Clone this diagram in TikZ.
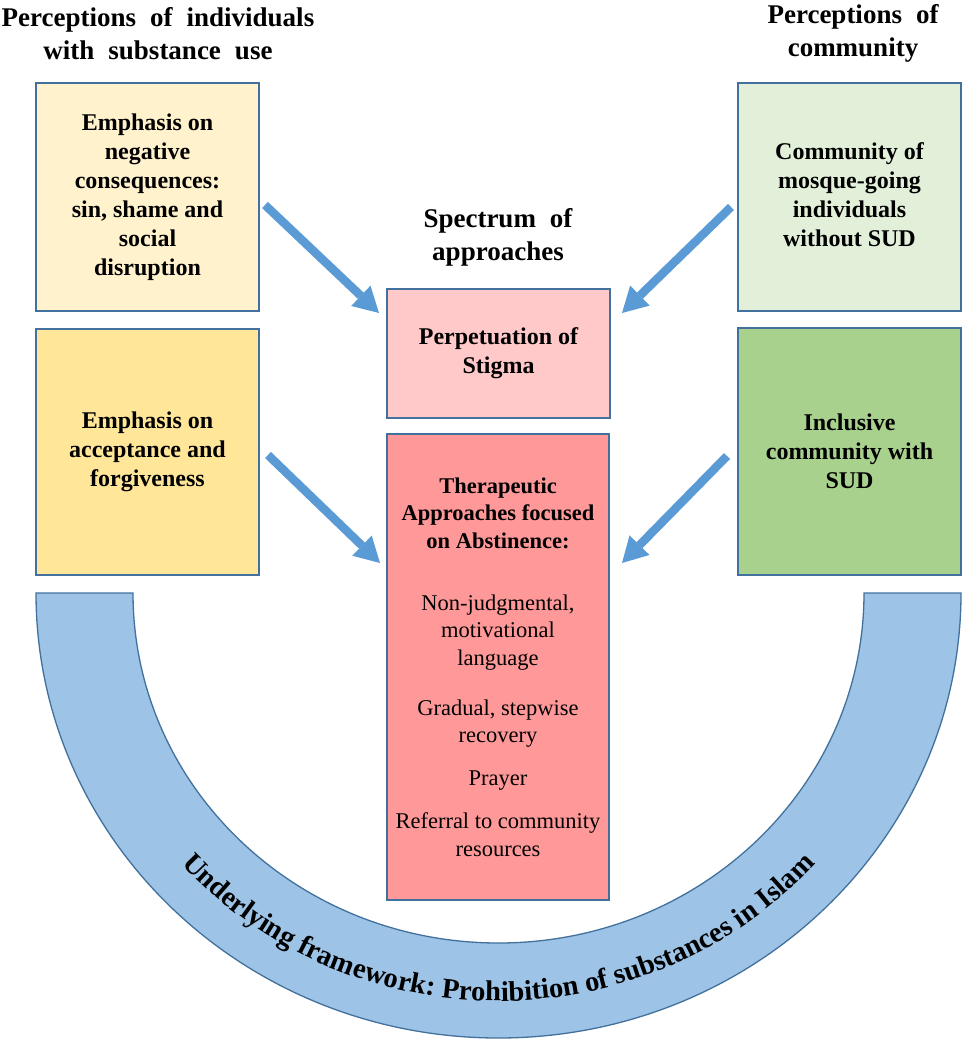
\documentclass[tikz,border=0pt]{standalone}
\usepackage{fontspec}
\setmainfont{Liberation Serif}
\usetikzlibrary{arrows.meta,decorations.text}
\definecolor{bordc}{HTML}{41719C}
\definecolor{arrowc}{HTML}{5B9BD5}
\definecolor{bandc}{HTML}{9DC3E6}
\definecolor{yel1}{HTML}{FFF2CC}
\definecolor{yel2}{HTML}{FFE699}
\definecolor{grn1}{HTML}{E2F0D9}
\definecolor{grn2}{HTML}{A9D18E}
\definecolor{pink1}{HTML}{FFC9C9}
\definecolor{red1}{HTML}{FF9999}
\newcommand\widespaces{\spaceskip=14pt\relax}
\begin{document}
\begin{tikzpicture}[x=1pt,y=1pt,
  box/.style={draw=bordc, line width=2pt, minimum width=223pt, align=center, inner sep=0pt,
    font=\bfseries\fontsize{24}{29}\selectfont},
  title/.style={align=center, font=\bfseries\fontsize{27}{33}\selectfont\widespaces},
  bigarrow/.style={draw=arrowc, line width=8.5pt, -{Triangle[width=28pt,length=25pt,line width=0pt,fill=arrowc]}}]
\useasboundingbox (0,0) rectangle (968,-1046);

% underlying band
\draw[fill=bandc, draw=bordc, line width=1.3pt]
  (36,-593) arc[start angle=180, end angle=360, x radius=462.5, y radius=445]
  -- (864,-593) arc[start angle=0, end angle=-180, x radius=365.5, y radius=350] -- cycle;
\path[decorate, decoration={text along path, text align=center,
  text={|\bfseries\fontsize{28.5}{28.5}\selectfont|Underlying framework:  Prohibition of substances in Islam}}]
  (498.5,-593) ++(200:424 and 408) arc[start angle=200, end angle=340, x radius=424, y radius=408];

% titles
\node[title] (tl) at (158,-33.5) {Perceptions of individuals\\with substance use};
\node[title] (tr) at (853,-33.5) {Perceptions of\\community};
\node[title] (tc) at (498,-237) {Spectrum of\\approaches};

% boxes
\node[box, fill=yel1, minimum height=228pt] (b1) at (147.5,-197) {Emphasis on\\negative\\consequences:\\sin, shame and\\social\\disruption};
\node[box, fill=yel2, minimum height=246pt] (b2) at (147.5,-452) {Emphasis on\\acceptance and\\forgiveness};
\node[box, fill=grn1, minimum height=228pt] (b3) at (849.5,-197) {\raisebox{-6pt}{\begin{tabular}{@{}c@{}}Community of\\mosque-going\\individuals\\without SUD\end{tabular}}};
\node[box, fill=grn2, minimum height=247pt] (b4) at (849.5,-451.5) {Inclusive\\community with\\SUD};
\node[box, fill=pink1, minimum height=129pt] (p) at (498.5,-353.5) {Perpetuation of\\Stigma};
\node[box, fill=red1, minimum width=222pt, minimum height=466pt,
  font=\fontsize{22.5}{27.5}\selectfont] (r) at (498,-667)
  {\textbf{Therapeutic}\\\textbf{Approaches focused}\\\textbf{on Abstinence:}\\[34.5pt]
   Non-judgmental,\\motivational\\language\\[22.5pt]
   Gradual, stepwise\\recovery\\[15.5pt]
   Prayer\\[15.5pt]
   Referral to community\\resources};

% arrows
\coordinate (a1s) at (265,-205); \coordinate (a1e) at (379,-313);
\coordinate (a2s) at (731,-207); \coordinate (a2e) at (622,-313);
\coordinate (a3s) at (268,-455); \coordinate (a3e) at (380,-563);
\coordinate (a4s) at (727,-456); \coordinate (a4e) at (622,-563);
\draw[bigarrow] (a1s) -- (a1e);
\draw[bigarrow] (a2s) -- (a2e);
\draw[bigarrow] (a3s) -- (a3e);
\draw[bigarrow] (a4s) -- (a4e);
\end{tikzpicture}
\end{document}
